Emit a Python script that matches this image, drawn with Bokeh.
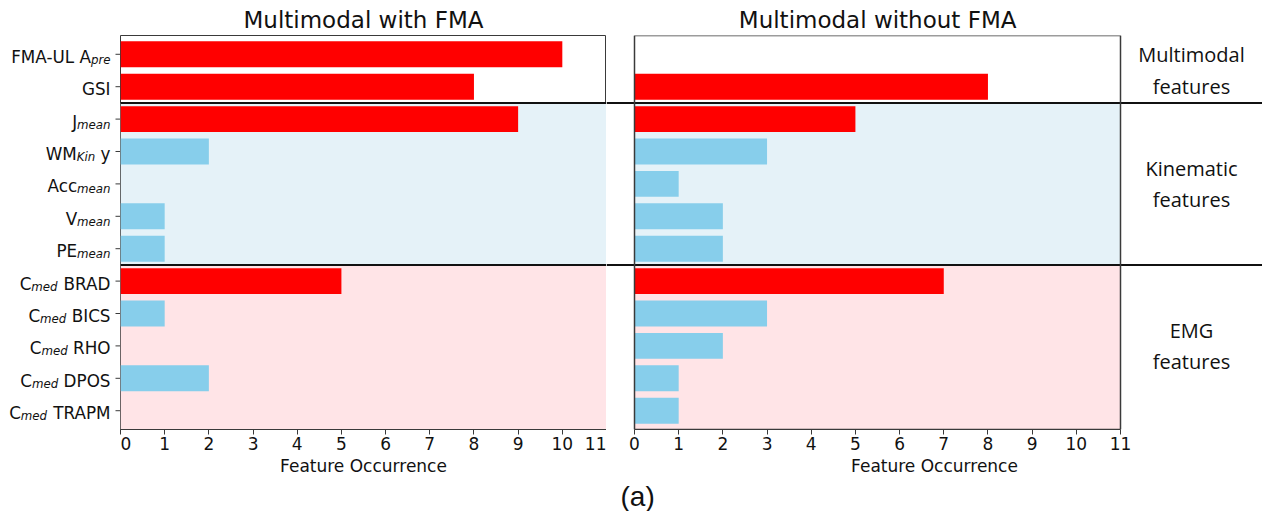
from bokeh.plotting import figure
from bokeh.models import Range1d, FixedTicker, Title, ColumnDataSource
from bokeh.layouts import row
from bokeh.embed import file_html
from bokeh.resources import INLINE
from bokeh.core.properties import value

# ---------------- data ----------------
# label pieces: (text, "n" = normal, "s" = subscript)
feature_labels = [
    [("FMA-UL A", "n"), ("pre", "s")],
    [("GSI", "n")],
    [("J", "n"), ("mean", "s")],
    [("WM", "n"), ("Kin", "s"), (" y", "n")],
    [("Acc", "n"), ("mean", "s")],
    [("V", "n"), ("mean", "s")],
    [("PE", "n"), ("mean", "s")],
    [("C", "n"), ("med", "s"), (" BRAD", "n")],
    [("C", "n"), ("med", "s"), (" BICS", "n")],
    [("C", "n"), ("med", "s"), (" RHO", "n")],
    [("C", "n"), ("med", "s"), (" DPOS", "n")],
    [("C", "n"), ("med", "s"), (" TRAPM", "n")],
]
with_fma = [10, 8, 9, 2, 0, 1, 1, 5, 1, 0, 2, 0]
without_fma = [0, 8, 5, 3, 1, 2, 2, 7, 3, 2, 1, 1]
selected = [True, True, True, False, False, False, False, True, False, False, False, False]
group_of = [0, 0, 1, 1, 1, 1, 1, 2, 2, 2, 2, 2]
group_names = ["Multimodal\nfeatures", "Kinematic\nfeatures", "EMG\nfeatures"]
panel_titles = ["Multimodal with FMA", "Multimodal without FMA"]
x_ticks = list(range(12))
x_label = "Feature Occurrence"
panel_tag = "(a)"

# ---------------- style ----------------
FONT = "DejaVu Sans"
RED = "#ff0000"
BLUE = "#87ceeb"
BAND = [None, "#e5f2f8", "#ffe4e7"]
SPINE = "#3a3a3a"
TXT = "#111111"
TICK_FS = 16.8
SUB_FS = TICK_FS * 0.7
AX_FS = "17px"

n = len(feature_labels)
idx = list(range(n))
Y0, Y1 = n - 1 + 0.58, -0.58          # bottom, top (index 0 at top)
XMAX = 11
FRAME_W, FRAME_H = 486, 396
TOP, BOTTOM = 35, 80
H = TOP + FRAME_H + BOTTOM
PX = FRAME_W / XMAX                    # pixels per x unit
PXY = FRAME_H / (Y0 - Y1)              # pixels per row unit
LAB_W = 120
GAP = 28
RIGHT_W = 656
x2_start = -GAP / PX
x2_end = x2_start + RIGHT_W / PX

W = {' ': 651, '-': 739, 'A': 1401, 'B': 1405, 'C': 1430, 'D': 1577, 'E': 1294,
     'F': 1178, 'G': 1548, 'H': 1540, 'I': 604, 'J': 604, 'K': 1343, 'L': 1141,
     'M': 1767, 'O': 1612, 'P': 1235, 'R': 1423, 'S': 1300, 'T': 1251, 'U': 1499,
     'V': 1401, 'W': 2025, 'a': 1255, 'c': 1126, 'd': 1300, 'e': 1260, 'i': 569,
     'm': 1995, 'n': 1298, 'p': 1300, 'r': 842, 'y': 1212}


def tw(s, size):
    return sum(W.get(ch, 1200) for ch in s) / 2048 * size


colors = [RED if s else BLUE for s in selected]
boundaries = [i + 0.5 for i in range(n - 1) if group_of[i] != group_of[i + 1]]
groups = sorted(set(group_of))
group_centers = [sum(i for i in idx if group_of[i] == g) / group_of.count(g) for g in groups]
y_range = Range1d(Y0, Y1)


def band_extent(g):
    members = [i for i in idx if group_of[i] == g]
    top = Y1 if g == groups[0] else members[0] - 0.5
    bot = Y0 if g == groups[-1] else members[-1] + 0.5
    return top, bot


def style_xaxis(p):
    ax = p.xaxis[0]
    ax.ticker = FixedTicker(ticks=x_ticks)
    ax.axis_label = x_label
    ax.axis_label_text_font = FONT
    ax.axis_label_text_font_size = AX_FS
    ax.axis_label_text_font_style = "normal"
    ax.axis_label_text_color = TXT
    ax.axis_label_standoff = 3
    ax.major_label_text_font = FONT
    ax.major_label_text_font_size = AX_FS
    ax.major_label_text_color = TXT
    ax.major_label_standoff = 2
    ax.major_tick_out = 5
    ax.major_tick_in = 0
    ax.minor_tick_line_color = None
    ax.axis_line_color = SPINE
    ax.major_tick_line_color = SPINE


def panel(p, values, x_left, x_right):
    for g in groups:
        if BAND[g]:
            t, b = band_extent(g)
            p.quad(left=0, right=XMAX, top=t, bottom=b, fill_color=BAND[g], line_color=None)
    src = ColumnDataSource(dict(y=idx, v=values, c=colors))
    p.hbar(y="y", left=0, right="v", height=0.8, fill_color="c", line_color=None, source=src)
    p.segment(x0=[x_left] * len(boundaries), x1=[x_right] * len(boundaries),
              y0=boundaries, y1=boundaries, line_color=TXT, line_width=2)
    p.xgrid.visible = False
    p.ygrid.visible = False
    style_xaxis(p)


def style_title(p, text, align, offset):
    p.title.text = text
    p.title.text_font = FONT
    p.title.text_font_size = "23px"
    p.title.text_font_style = "normal"
    p.title.text_color = TXT
    p.title.align = align
    p.title.offset = offset
    p.title.standoff = 6


# ---------------- tick-label strip (left) ----------------
lab = figure(width=LAB_W, height=H, x_range=Range1d(0, LAB_W), y_range=y_range,
             x_axis_location=None, y_axis_location=None, output_backend="svg",
             toolbar_location=None, min_border_left=0, min_border_right=0,
             min_border_top=TOP, min_border_bottom=BOTTOM)
lab.outline_line_color = None
lab.xgrid.visible = False
lab.ygrid.visible = False
# tick marks of the left panel's y axis
lab.segment(x0=[LAB_W - 5] * n, x1=[LAB_W] * n, y0=idx, y1=idx, line_color=SPINE, line_width=1)

pieces = dict(x=[], y=[], t=[], fs=[], st=[])
for i, parts in enumerate(feature_labels):
    xr = LAB_W - 10.0
    for text, kind in reversed(parts):
        fs = TICK_FS if kind == "n" else SUB_FS
        pieces["x"].append(xr)
        pieces["y"].append(i + (2.5 if kind == "n" else 5.5) / PXY)
        pieces["t"].append(text.lstrip(" "))
        pieces["fs"].append(f"{fs:.1f}px")
        pieces["st"].append("normal" if kind == "n" else "italic")
        xr -= tw(text, fs)
lab.text(x="x", y="y", text="t", text_font_size="fs", text_font_style="st",
         text_font=value(FONT), text_color=TXT, text_align="right",
         text_baseline="alphabetic", source=ColumnDataSource(pieces))

# ---------------- left panel ----------------
p1 = figure(width=FRAME_W, height=H, x_range=Range1d(0, XMAX), y_range=y_range,
            y_axis_location=None, output_backend="svg", toolbar_location=None,
            min_border_left=0, min_border_right=0, min_border_top=TOP, min_border_bottom=BOTTOM)
p1.outline_line_color = SPINE
p1.outline_line_width = 1
panel(p1, with_fma, 0, XMAX)
style_title(p1, panel_titles[0], "center", 0)

# ---------------- right panel ----------------
p2 = figure(width=RIGHT_W, height=H, x_range=Range1d(x2_start, x2_end), y_range=y_range,
            y_axis_location=None, output_backend="svg", toolbar_location=None,
            min_border_left=0, min_border_right=0, min_border_top=TOP, min_border_bottom=BOTTOM)
p2.outline_line_color = None
panel(p2, without_fma, x2_start, x2_end)
p2.xaxis[0].bounds = (0, XMAX)
p2.quad(left=0, right=XMAX, top=Y1, bottom=Y0, fill_color=None, line_color=SPINE, line_width=1.5)

title2_w = tw(panel_titles[1], 23)
style_title(p2, panel_titles[1], "left", GAP + FRAME_W / 2 - title2_w / 2 + 9)

p2.text(x=[(XMAX + x2_end) / 2] * len(groups), y=group_centers, text=group_names,
        text_font=value("Open Sans"), text_font_size="20px", text_align="center",
        text_baseline="middle", text_line_height=1.15, text_color=TXT)

tag = Title(text=panel_tag, text_font="Liberation Sans", text_font_size="28px",
            text_font_style="normal", text_color=TXT, align="left", offset=GAP - 14, standoff=0)
p2.add_layout(tag, "below")

layout = row(lab, p1, p2)
open("out.html", "w").write(file_html(layout, INLINE))
